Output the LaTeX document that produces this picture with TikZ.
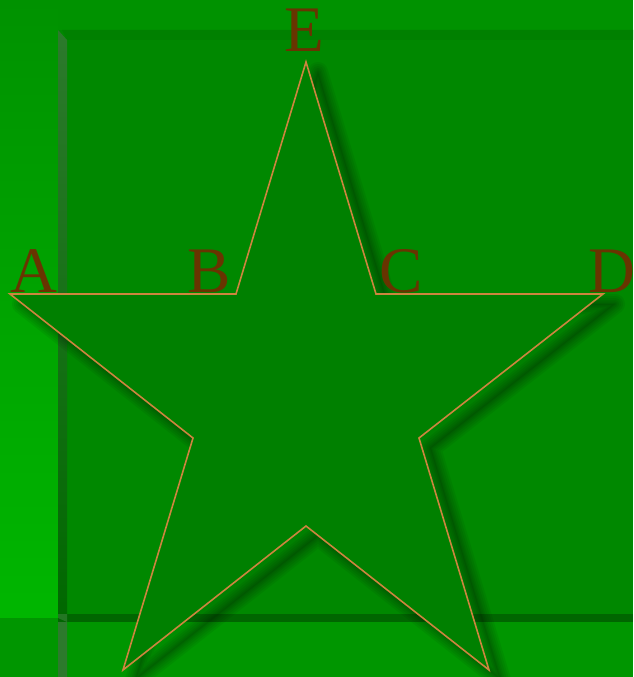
\documentclass[tikz,border=0pt]{standalone}
\usepackage{fontspec}
\setmainfont{Liberation Serif}
\definecolor{bgtop}{RGB}{0,146,0}
\definecolor{bgbright}{RGB}{0,182,0}
\definecolor{bgbottom}{RGB}{0,150,0}
\definecolor{innerfill}{RGB}{0,136,0}
\definecolor{topband}{RGB}{0,128,0}
\definecolor{bevelgray}{RGB}{44,122,44}
\definecolor{beveldark}{RGB}{0,104,0}
\definecolor{bottomband}{RGB}{0,102,0}
\definecolor{starfill}{RGB}{0,128,0}
\definecolor{starline}{RGB}{205,133,63}
\definecolor{labelcol}{RGB}{104,52,0}
\tikzset{
  lbl/.style={text=labelcol, font=\fontsize{65}{65}\selectfont, anchor=base, inner sep=0pt},
  starshape/.style={fill=starfill, draw=starline, line width=1.6pt, line join=miter},
  shadowline/.style={draw=black, draw opacity=0.055, line join=round},
  shadowfill/.style={fill=black, fill opacity=0.06}
}
\newcommand{\mystarpath}[1]{([shift={(#1)}]E) -- ([shift={(#1)}]C) -- ([shift={(#1)}]D) -- ([shift={(#1)}]R) -- ([shift={(#1)}]BR) -- ([shift={(#1)}]M) -- ([shift={(#1)}]BL) -- ([shift={(#1)}]L) -- ([shift={(#1)}]A) -- ([shift={(#1)}]B) -- cycle}
\begin{document}
\begin{tikzpicture}[x=1pt,y=-1pt]
\useasboundingbox (0,0) rectangle (633,677);
% background
\fill[bgtop] (0,0) rectangle (633,677);
\shade[top color=bgtop, bottom color=bgbright] (0,0) rectangle (58,618);
\fill[bgbottom] (0,618) rectangle (633,677);
% inner panel
\fill[innerfill] (58,30) rectangle (633,618);
\fill[topband] (62,30) -- (633,30) -- (633,40) -- (67,40) -- cycle;
\shade[top color=bevelgray, bottom color=beveldark] (58,30) -- (67,40) -- (67,614) -- (58,618) -- cycle;
\fill[bevelgray] (58,618) -- (67,622) -- (67,677) -- (58,677) -- cycle;
\fill[bottomband] (58,614) rectangle (633,622);
\fill[bevelgray!80!beveldark] (58,614) -- (67,614) -- (67,622) -- (58,618) -- cycle;
% star points
\coordinate (E) at (306,62);
\coordinate (C) at (376,294);
\coordinate (D) at (603,294);
\coordinate (R) at (419,438);
\coordinate (BR) at (489,670);
\coordinate (M) at (306,526);
\coordinate (BL) at (123,670);
\coordinate (L) at (193,438);
\coordinate (A) at (10,294);
\coordinate (B) at (236,294);
% shadow
\fill[shadowfill] \mystarpath{12,10};
\foreach \w in {20,16,12,8,5,2}{
  \draw[shadowline, line width=\w pt] \mystarpath{12,10};
}
% star
\draw[starshape] (E) -- (C) -- (D) -- (R) -- (BR) -- (M) -- (BL) -- (L) -- (A) -- (B) -- cycle;
% labels
\node[lbl] (la) at (34,292) {A};
\node[lbl] (lb) at (209,292) {B};
\node[lbl] (lc) at (401,292) {C};
\node[lbl] (ld) at (612,292) {D};
\node[lbl] (le) at (304,52) {E};
\end{tikzpicture}
\end{document}
